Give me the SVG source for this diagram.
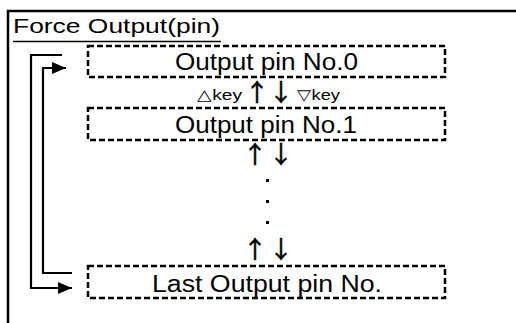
<svg xmlns="http://www.w3.org/2000/svg" width="516" height="323" viewBox="0 0 516 323">
<style>
.box{fill:#fff;stroke:#000;stroke-width:2.5;stroke-dasharray:6,3}
.t{font-family:"Liberation Sans",Arial,sans-serif;fill:#000}
.lbl{font-size:23px}
.key{font-size:15px}
.arr{font-family:"Noto Sans CJK JP",sans-serif;font-size:24px;fill:#000;stroke:#000;stroke-width:0.6}
.con{fill:none;stroke:#000;stroke-width:2.2}
</style>
<defs>
<marker id="ah" markerWidth="14" markerHeight="12" refX="14" refY="6" orient="auto" markerUnits="userSpaceOnUse">
<path d="M0,0 L14,6 L0,12 Z" fill="#000"/>
</marker>
</defs>
<rect width="516" height="323" fill="#fff"/>
<g id="frame">
<path d="M8,323 V11 H516" fill="none" stroke="#000" stroke-width="2.5"/>
<text class="t" x="13" y="33" font-size="21" textLength="207" lengthAdjust="spacingAndGlyphs">Force Output(pin)</text>
<line x1="13" y1="41.5" x2="221" y2="41.5" stroke="#000" stroke-width="1.5"/>
</g>
<g id="node0">
<rect class="box" x="88" y="46" width="357" height="31"/>
<text class="t lbl" x="175" y="70" textLength="183" lengthAdjust="spacingAndGlyphs">Output pin No.0</text>
</g>
<g id="node1">
<rect class="box" x="88" y="108" width="357" height="32"/>
<text class="t lbl" x="175" y="133" textLength="182" lengthAdjust="spacingAndGlyphs">Output pin No.1</text>
</g>
<g id="node2">
<rect class="box" x="88" y="266" width="357" height="32"/>
<text class="t lbl" x="152" y="292" textLength="230" lengthAdjust="spacingAndGlyphs">Last Output pin No.</text>
</g>
<g id="keys">
<text class="t key" x="197" y="100" textLength="45" lengthAdjust="spacingAndGlyphs">△key</text>
<text class="t key" x="297" y="100" textLength="43" lengthAdjust="spacingAndGlyphs">▽key</text>
<text class="arr" x="257" y="101" text-anchor="middle">↑</text>
<text class="arr" x="281" y="101" text-anchor="middle">↓</text>
<text class="arr" x="255" y="163" text-anchor="middle">↑</text>
<text class="arr" x="281" y="163" text-anchor="middle">↓</text>
<text class="arr" x="255" y="258" text-anchor="middle">↑</text>
<text class="arr" x="281" y="258" text-anchor="middle">↓</text>
<rect x="266" y="179" width="3" height="3"/>
<rect x="266" y="200" width="3" height="3"/>
<rect x="266" y="221" width="3" height="3"/>
</g>
<g id="connectors">
<path class="con" d="M62,55 H31 V288 H72" marker-end="url(#ah)"/>
<path class="con" d="M72,273 H43 V68 H66" marker-end="url(#ah)"/>
</g>
</svg>
